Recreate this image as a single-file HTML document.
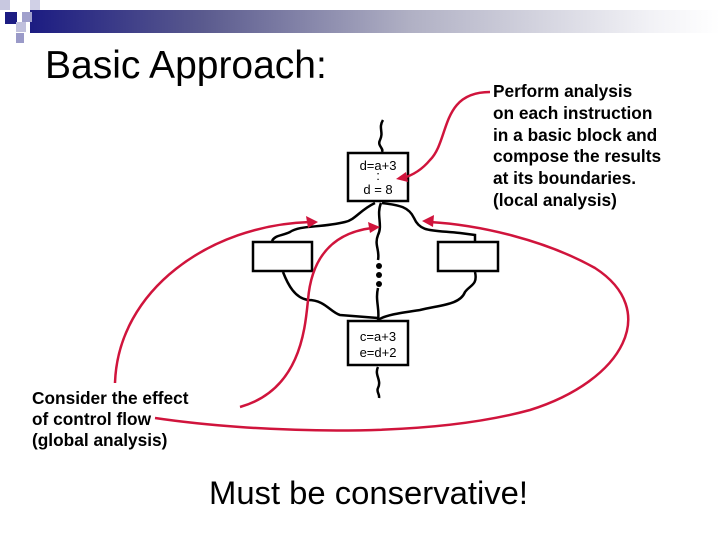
<!DOCTYPE html>
<html><head><style>
body{margin:0;width:720px;height:540px;background:#fff;position:relative;overflow:hidden;font-family:"Liberation Sans",sans-serif}
.t{position:absolute;white-space:nowrap}
</style></head><body>
<div style="position:absolute;left:30px;top:10px;width:690px;height:23px;background:linear-gradient(to right,#1c1c82 0%,#5a5a8e 25%,#b0b0c4 55%,#f2f2f6 90%,#fff 100%)"></div>
<div style="position:absolute;left:0;top:0;width:10px;height:10px;background:#c8c8e0"></div>
<div style="position:absolute;left:5px;top:12px;width:12px;height:12px;background:#1c1c82"></div>
<div style="position:absolute;left:22px;top:12px;width:10px;height:10px;background:#a0a0cc"></div>
<div style="position:absolute;left:30px;top:0;width:10px;height:10px;background:#d0d0e6"></div>
<div style="position:absolute;left:16px;top:22px;width:10px;height:10px;background:#c0c0dc"></div>
<div style="position:absolute;left:16px;top:33px;width:8px;height:10px;background:#9a9ac8"></div>
<div class="t" style="left:45px;top:44px;font-size:39px">Basic Approach:</div>
<div class="t" style="left:493px;top:81px;font-size:17.3px;font-weight:bold;line-height:21.8px">Perform analysis<br>on each instruction<br>in a basic block and<br>compose the results<br>at its boundaries.<br>(local analysis)</div>
<div class="t" style="left:32px;top:388px;font-size:17.3px;font-weight:bold;line-height:21px">Consider the effect<br>of control flow<br>(global analysis)</div>
<div class="t" style="left:209px;top:474px;font-size:32.8px">Must be conservative!</div>
<svg width="720" height="540" style="position:absolute;left:0;top:0">
<g fill="none" stroke="#000" stroke-width="2.5">
<rect x="348" y="153" width="60" height="48" fill="#fff"/>
<rect x="253" y="242" width="59" height="29"/>
<rect x="438" y="242" width="60" height="29"/>
<rect x="348" y="321" width="60" height="44"/>
<path d="M383,120 C378,128 384,132 380,140 C377,146 384,148 382,152"/>
<path d="M378,367 C374,375 382,380 378,388 C376,392 380,394 379,398"/>
<path d="M375,203 C360,210 355,220 345,222 C320,228 300,225 290,232 C282,236 275,235 272,241"/>
<path d="M381,203 C376,215 383,225 378,235 C374,245 380,250 378,260 M378,288 C375,300 380,310 378,320"/>
<path d="M382,203 C395,205 408,205 414,218 C420,232 430,230 460,233 L475,235 L475,241"/>
<path d="M283,272 C288,285 295,298 308,300 C325,300 330,312 340,315 L378,318"/>
<path d="M475,272 C478,285 470,285 465,292 C460,305 440,305 420,310 C400,313 385,315 378,320"/>
</g>
<g fill="#000"><circle cx="379" cy="266" r="3"/><circle cx="379" cy="275" r="3"/><circle cx="379" cy="284" r="3"/></g>
<g fill="none" stroke="#d0143c" stroke-width="2.5">
<path d="M115,383 C118,290 210,225 310,222"/>
<path d="M240,407 C300,390 305,330 308,300 C312,250 340,232 372,228"/>
<path d="M155,418 C250,432 420,440 530,410 C625,380 660,310 595,268 C545,240 480,225 430,222"/>
<path d="M490,92 C440,92 450,140 430,160 C420,172 410,176 403,178"/>
</g>
<g fill="#d0143c">
<polygon points="318,222 306,216 308,228"/>
<polygon points="380,227 368,222 370,233"/>
<polygon points="422,221 434,215 433,227"/>
<polygon points="396,179 406,172 408,182"/>
</g>
<g font-size="13" text-anchor="middle" fill="#000">
<text x="378" y="170">d=a+3</text>
<text x="378" y="180">:</text>
<text x="378" y="194">d = 8</text>
<text x="378" y="341">c=a+3</text>
<text x="378" y="357">e=d+2</text>
</g>
</svg>
</body></html>
